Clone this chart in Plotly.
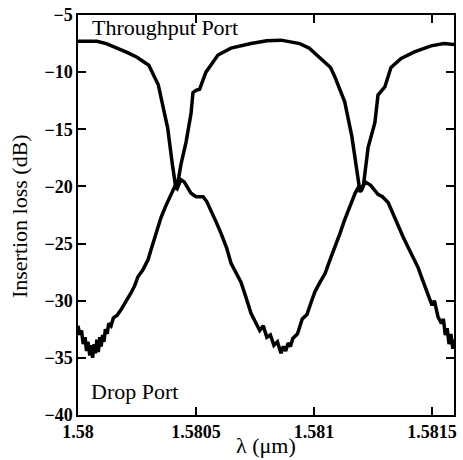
import plotly.graph_objects as go

thr_wl = [1.58000, 1.58004, 1.58008, 1.58012, 1.58017, 1.58021, 1.58025, 1.58030, 1.58034, 1.58036,
          1.58038, 1.58040, 1.580415, 1.58042, 1.580436, 1.580458, 1.580479, 1.580487, 1.58050, 1.580515,
          1.580542, 1.580593, 1.580648, 1.580733, 1.58080, 1.58086, 1.58094, 1.58098, 1.58103, 1.58107,
          1.58109, 1.58113, 1.58116, 1.58118, 1.581195, 1.58121, 1.581229, 1.581258, 1.581271, 1.58130,
          1.581326, 1.581369, 1.581428, 1.581496, 1.58155, 1.5816]
thr_db = [-7.3, -7.3, -7.3, -7.5, -7.9, -8.3, -8.7, -9.4, -11.1, -12.9,
          -14.9, -18.1, -20.2, -20.0, -18.1, -16.1, -13.6, -11.8, -11.6, -11.5,
          -10.0, -8.5, -7.9, -7.5, -7.25, -7.2, -7.5, -7.9, -8.8, -9.6,
          -10.5, -12.6, -15.6, -18.6, -20.5, -19.8, -16.6, -14.4, -12.0, -11.3,
          -9.6, -8.8, -8.2, -7.7, -7.5, -7.6]

drop_wl = [1.58000, 1.580008, 1.580015, 1.580022, 1.58003, 1.580036, 1.580042, 1.58005, 1.580056, 1.580062,
           1.580068, 1.580074, 1.58008, 1.580086, 1.580092, 1.580098, 1.580104, 1.58011, 1.580116, 1.580124,
           1.58013, 1.58014, 1.58015, 1.580165, 1.580182, 1.5802, 1.580225, 1.58024, 1.580254, 1.580275,
           1.580297, 1.58031, 1.580326, 1.58034, 1.580352, 1.580372, 1.580394, 1.58041, 1.58042, 1.580436,
           1.58045, 1.580465, 1.580479, 1.5805, 1.58053, 1.580545, 1.580564, 1.580585, 1.580606, 1.58063,
           1.580648, 1.58067, 1.580691, 1.58071, 1.580733, 1.58075, 1.58077, 1.580785, 1.5808, 1.580815,
           1.58083, 1.580845, 1.58086, 1.58087, 1.58088, 1.58089, 1.58090, 1.58091, 1.58093, 1.58095,
           1.58097, 1.58099, 1.581004, 1.581025, 1.581047, 1.581068, 1.581089, 1.58111, 1.58113, 1.58115,
           1.581174, 1.58119, 1.5812, 1.581216, 1.58124, 1.581271, 1.58129, 1.581314, 1.581335, 1.581356,
           1.581377, 1.581398, 1.58142, 1.581441, 1.58146, 1.581483, 1.5815, 1.58151, 1.581525, 1.58154,
           1.581548, 1.581556, 1.581564, 1.581572, 1.58158, 1.581588, 1.581593]
drop_db = [-32.2, -33.0, -32.6, -33.8, -33.2, -34.4, -33.6, -34.8, -33.9, -35.0,
           -33.8, -34.6, -33.4, -34.5, -33.2, -34.0, -33.0, -33.6, -32.5, -32.9,
           -32.0, -32.2, -31.5, -31.3, -30.8, -30.2, -29.3, -28.7, -27.9, -27.3,
           -26.4, -25.5, -24.4, -23.6, -22.7, -21.7, -20.6, -20.0, -20.2, -19.4,
           -19.6, -20.1, -20.6, -20.9, -20.9, -21.3, -22.1, -23.1, -24.1, -25.4,
           -26.7, -27.6, -28.4, -29.6, -31.1, -31.8, -32.6, -32.2, -33.2, -33.0,
           -33.9, -33.6, -34.6, -34.0, -34.4, -33.7, -34.0, -33.3, -32.9, -31.6,
           -31.2, -30.0, -29.2, -28.4, -27.6, -26.4, -25.3, -24.1, -22.9, -21.8,
           -20.6, -20.0, -20.4, -19.6, -19.9, -20.7, -20.9, -21.4, -22.4, -23.5,
           -24.4, -25.3, -26.2, -27.1, -28.2, -29.4, -30.4, -30.0, -31.4, -32.0,
           -31.6, -33.0, -32.4, -33.8, -32.9, -34.2, -33.4]

x_ticks = [1.58, 1.5805, 1.581, 1.5815]
x_ticklabels = ["1.58", "1.5805", "1.581", "1.5815"]
y_ticks = [-40, -35, -30, -25, -20, -15, -10, -5]

fig = go.Figure()
fig.add_trace(go.Scatter(x=thr_wl, y=thr_db, mode="lines",
                         line=dict(color="black", width=3.5), showlegend=False))
fig.add_trace(go.Scatter(x=drop_wl, y=drop_db, mode="lines",
                         line=dict(color="black", width=3.5), showlegend=False))

serif = "Liberation Serif"
fig.add_annotation(x=0.032, y=1.005, xref="paper", yref="paper", xanchor="left", yanchor="top",
                   text="Throughput Port", showarrow=False, font=dict(family=serif, size=22, color="black"))
fig.add_annotation(x=0.03, y=0.022, xref="paper", yref="paper", xanchor="left", yanchor="bottom",
                   text="Drop Port", showarrow=False, font=dict(family=serif, size=22, color="black"))
fig.add_annotation(x=0.501, y=-0.075, xref="paper", yref="paper", xanchor="center", yanchor="middle",
                   text="λ (μm)", showarrow=False, font=dict(family=serif, size=22, color="black"))
fig.add_annotation(x=-0.154, y=0.4975, xref="paper", yref="paper", xanchor="center", yanchor="middle",
                   textangle=-90, text="Insertion loss (dB)", showarrow=False,
                   font=dict(family=serif, size=22, color="black"))

fig.update_layout(
    template="none",
    width=463, height=460,
    margin=dict(l=78, r=9, t=15, b=45),
    paper_bgcolor="white", plot_bgcolor="white",
    font=dict(family=serif, color="black"),
    xaxis=dict(range=[1.58, 1.581593], tickvals=x_ticks, ticktext=x_ticklabels,
               ticks="inside", ticklen=8, tickwidth=1.5, tickcolor="black",
               showline=True, linecolor="black", linewidth=1.5, mirror="ticks",
               showgrid=False, zeroline=False, automargin=False,
               tickfont=dict(family=serif, size=18, weight="bold")),
    yaxis=dict(range=[-40, -5], tickvals=y_ticks,
               ticks="inside", ticklen=8, tickwidth=1.5, tickcolor="black",
               showline=True, linecolor="black", linewidth=1.5, mirror="ticks",
               showgrid=False, zeroline=False, automargin=False,
               tickfont=dict(family=serif, size=18, weight="bold")),
)

fig.write_html("out.html", config={"displayModeBar": False},
               post_script="document.body.style.margin='0';document.body.style.overflow='hidden';")
